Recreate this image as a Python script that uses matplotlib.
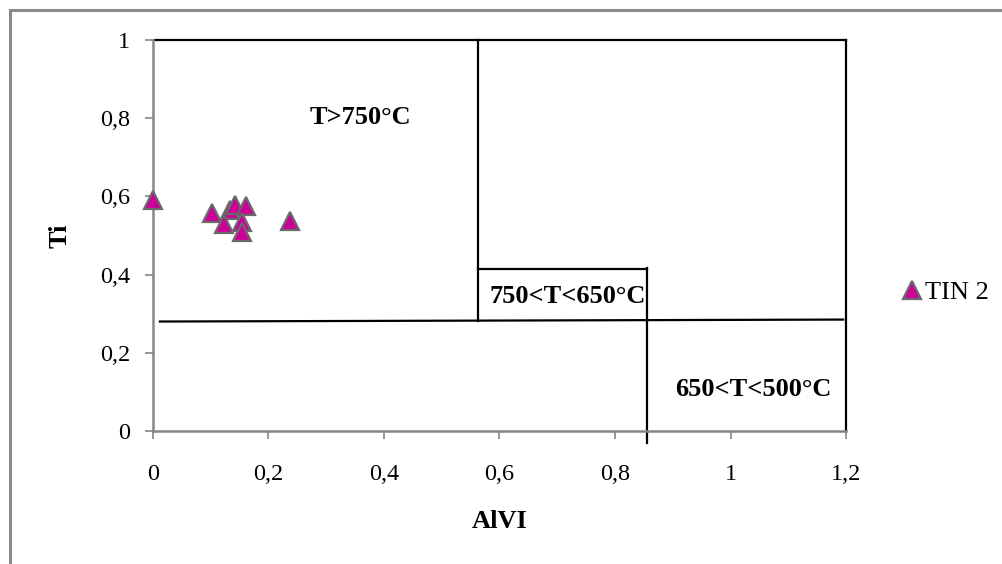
import matplotlib; matplotlib.use('Agg')
import matplotlib.pyplot as plt
from matplotlib.lines import Line2D

plt.rcParams['font.family'] = ['Liberation Serif', 'DejaVu Serif']

# TIN 2 samples
alvi = [0.0, 0.102, 0.133, 0.142, 0.161, 0.123, 0.154, 0.154, 0.237]
ti = [0.591, 0.557, 0.565, 0.578, 0.576, 0.529, 0.535, 0.510, 0.537]

x_ticks = [0, 0.2, 0.4, 0.6, 0.8, 1.0, 1.2]
x_labels = ['0', '0,2', '0,4', '0,6', '0,8', '1', '1,2']
y_ticks = [0, 0.2, 0.4, 0.6, 0.8, 1.0]
y_labels = ['0', '0,2', '0,4', '0,6', '0,8', '1']

# field boundaries (x list, y list)
boundaries = [
    ([0.003, 1.2], [1.0, 1.0]),
    ([1.2, 1.2], [0.0, 1.0]),
    ([0.563, 0.563], [0.281, 1.0]),
    ([0.012, 1.195], [0.280, 0.285]),
    ([0.563, 0.855], [0.414, 0.414]),
    ([0.855, 0.855], [0.418, -0.03]),
]
fields = [('T>750°C', 0.272, 0.803), ('750<T<650°C', 0.582, 0.343),
          ('650<T<500°C', 0.904, 0.105)]

fig = plt.figure(figsize=(10.03, 5.64), dpi=100)
ax = fig.add_axes([0.1525, 0.2358, 0.691, 0.6933])

for xs, ys in boundaries:
    ax.plot(xs, ys, color='black', lw=1.6, clip_on=False, zorder=2)

ax.plot(alvi, ti, ls='none', marker='^', ms=13, mfc='#cc0099', mec='#6a6a6a',
        mew=1.6, label='TIN 2', clip_on=False, zorder=3)

for txt, x, y in fields:
    ax.text(x, y, txt, fontsize=19, fontweight='bold', va='center', ha='left')

ax.set_xlim(0, 1.2); ax.set_ylim(0, 1)
ax.set_xticks(x_ticks); ax.set_xticklabels(x_labels)
ax.set_yticks(y_ticks); ax.set_yticklabels(y_labels)
ax.tick_params(axis='both', direction='out', length=5.5, width=1.2,
               color='#868686', labelsize=17.5)
ax.tick_params(axis='x', pad=18)
ax.tick_params(axis='y', pad=11)
for s in ['top', 'right']:
    ax.spines[s].set_visible(False)
for s in ['left', 'bottom']:
    ax.spines[s].set_color('#868686'); ax.spines[s].set_linewidth(1.8)

ax.set_xlabel('AlVI', fontsize=19, fontweight='bold', labelpad=18)
ax.set_ylabel('Ti', fontsize=19, fontweight='bold', labelpad=20)

ax.legend(loc='center left', bbox_to_anchor=(1.061, 0.354), frameon=False,
          fontsize=19, handletextpad=0.0, handlelength=1.0, borderaxespad=0)

# chart border (only top and left visible in crop)
fig.add_artist(Line2D([0.0095, 0.0095], [0.982, 0.0], color='#8a8a8a', lw=2.2))
fig.add_artist(Line2D([0.0095, 1.0], [0.982, 0.982], color='#8a8a8a', lw=2.2))

fig.savefig('out.png', dpi=100, facecolor='white')
